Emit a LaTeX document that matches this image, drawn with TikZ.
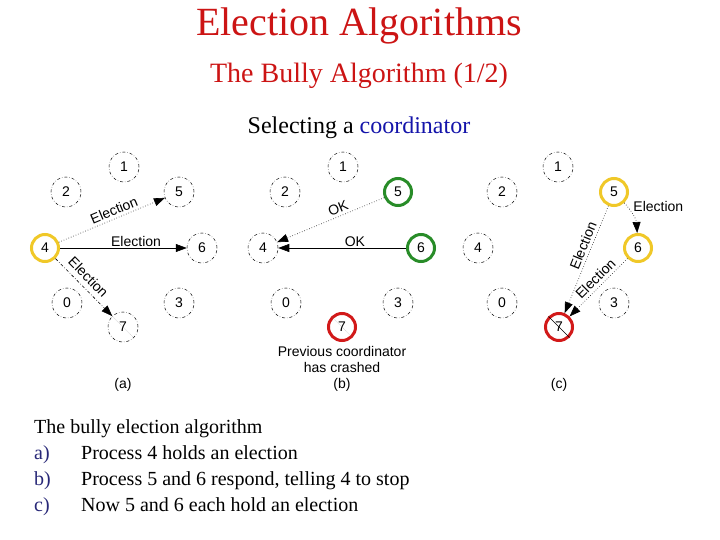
\documentclass[tikz,border=0pt]{standalone}
\usepackage{fontspec}
\setmainfont{Liberation Serif}
\newfontfamily\diagfont{Liberation Sans}
\usetikzlibrary{arrows.meta}
\definecolor{titlered}{RGB}{204,20,20}
\definecolor{linkblue}{RGB}{20,20,170}
\definecolor{hiyellow}{RGB}{240,200,40}
\definecolor{higreen}{RGB}{40,140,40}
\definecolor{hired}{RGB}{210,25,25}
\definecolor{itemblue}{RGB}{40,40,120}
\begin{document}
\begin{tikzpicture}[x=1pt,y=-1pt,
  proc/.style={circle,draw,dashdotted,line width=0.5pt,minimum size=30pt,inner sep=0pt,
    font=\diagfont\fontsize{14}{14}\selectfont},
  procY/.style={proc,solid,draw=hiyellow,line width=3pt,minimum size=27pt},
  procG/.style={proc,solid,draw=higreen,line width=3pt,minimum size=27pt},
  procR/.style={proc,solid,draw=hired,line width=3pt,minimum size=27pt},
  msg/.style={-{Triangle[length=11pt,width=8pt]},line width=0.6pt},
  lab/.style={font=\diagfont\fontsize{14}{14}\selectfont,inner sep=1.5pt},
  slab/.style={lab,sloped,above,inner sep=3pt},
  crossline/.style={line width=0.3pt,densely dotted,black!60},
  body/.style={anchor=base west,inner sep=0pt,font=\fontsize{20}{20}\selectfont}]
\useasboundingbox (0,0) rectangle (720,540);
\fill[white] (0,0) rectangle (720,540);

% titles
\node[anchor=base,inner sep=0pt,text=titlered,font=\fontsize{40}{40}\selectfont] (title) at (359,36) {Election Algorithms};
\node[anchor=base,inner sep=0pt,text=titlered,font=\fontsize{28}{28}\selectfont] (subtitle) at (359,83) {The Bully Algorithm (1/2)};
\node[anchor=base,inner sep=0pt,font=\fontsize{24}{24}\selectfont] (sel) at (359,134) {Selecting a \textcolor{linkblue}{coordinator}};

% panel (a)
\node[proc]  (a1) at (124,167) {1};
\node[proc]  (a2) at (66,192) {2};
\node[proc]  (a5) at (179,192) {5};
\node[procY] (a4) at (45,248) {4};
\node[proc]  (a6) at (202,248) {6};
\node[proc]  (a0) at (67,303) {0};
\node[proc]  (a3) at (179,303) {3};
\node[proc]  (a7) at (123,327) {7};
\draw[crossline] (a7.north west) -- (a7.south east);
\draw[msg,dotted] (a4) -- node[slab,pos=0.55]{Election} (a5);
\draw[msg] (a4) -- node[lab,above,pos=0.6]{Election} (a6);
\draw[msg,dashdotted] (a4) -- node[slab,pos=0.45,inner sep=5pt]{Election} (a7);
\node[lab] (la) at (123,385) {(a)};

% panel (b)
\node[proc]  (b1) at (343,167) {1};
\node[proc]  (b2) at (285,192) {2};
\node[procG] (b5) at (398,192) {5};
\node[proc]  (b4) at (263,248) {4};
\node[procG] (b6) at (421,248) {6};
\node[proc]  (b0) at (286,303) {0};
\node[proc]  (b3) at (398,303) {3};
\node[procR] (b7) at (342,327) {7};
\draw[crossline] (b7.north west) -- (b7.south east);
\draw[msg,dotted] (b5) -- node[slab,pos=0.4]{OK} (b4);
\draw[msg] (b6) -- node[lab,above,pos=0.4]{OK} (b4);
\node[lab] (prev) at (342,351) {Previous coordinator};
\node[lab] (crash) at (342,367) {has crashed};
\node[lab] (lb) at (342,385) {(b)};

% panel (c)
\node[proc]  (c1) at (558,167) {1};
\node[proc]  (c2) at (502,192) {2};
\node[procY] (c5) at (614,192) {5};
\node[proc]  (c4) at (478,248) {4};
\node[procY] (c6) at (638,248) {6};
\node[proc]  (c0) at (502,303) {0};
\node[proc]  (c3) at (614,303) {3};
\node[procR] (c7) at (559,327) {7};
\draw[line width=0.4pt] (c7.north west) -- (c7.south east);
\draw[msg,dotted] (c5) to[bend left=20] node[lab,anchor=west,pos=0.35,yshift=6pt]{Election} (c6);
\draw[msg,dotted] (c5) -- node[slab,pos=0.4]{Election} (c7);
\draw[msg,dotted] (c6) -- node[slab,pos=0.45]{Election} (c7);
\node[lab] (lc) at (559,385) {(c)};

% caption text
\node[body] (t0) at (34,433) {The bully election algorithm};
\node[body,text=itemblue] (ta) at (34,459) {a)};
\node[body] (tA) at (81,459) {Process 4 holds an election};
\node[body,text=itemblue] (tb) at (34,485) {b)};
\node[body] (tB) at (81,485) {Process 5 and 6 respond, telling 4 to stop};
\node[body,text=itemblue] (tc) at (34,511) {c)};
\node[body] (tC) at (81,511) {Now 5 and 6 each hold an election};
\end{tikzpicture}
\end{document}
